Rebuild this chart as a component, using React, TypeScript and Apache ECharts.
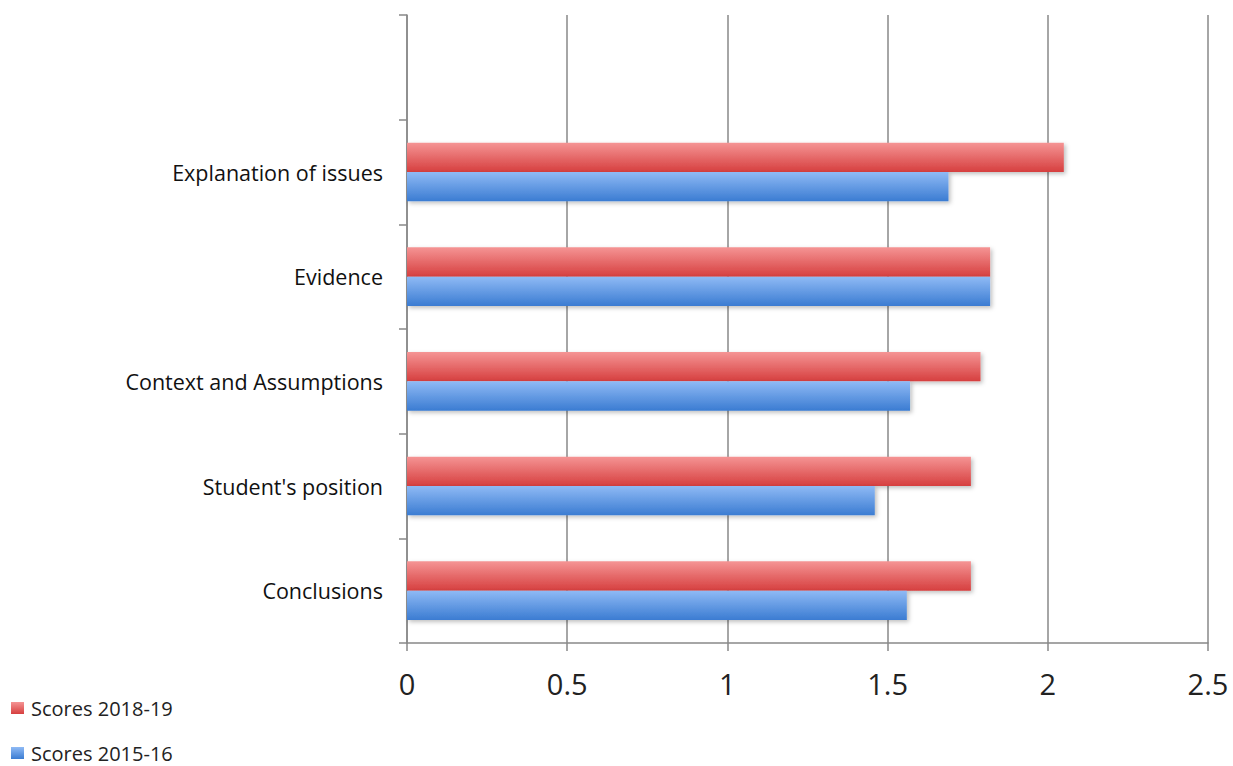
import React, { useEffect, useRef } from "react";
import * as echarts from "echarts";

const categories = ["Conclusions", "Student's position", "Context and Assumptions", "Evidence", "Explanation of issues", ""];
const scores2018 = [1.76, 1.76, 1.79, 1.82, 2.05, null];
const scores2015 = [1.56, 1.46, 1.57, 1.82, 1.69, null];
const xTicks = [0, 0.5, 1, 1.5, 2, 2.5];
const seriesNames = ["Scores 2018-19", "Scores 2015-16"];

const FONT = "'Open Sans', 'Noto Sans', sans-serif";

export default function App() {
  const ref = useRef<HTMLDivElement>(null);
  useEffect(() => {
    if (!ref.current) return;
    const chart = echarts.init(ref.current, null, { renderer: "svg" });
    const red = new echarts.graphic.LinearGradient(0, 0, 0, 1, [
      { offset: 0, color: "#f59494" },
      { offset: 1, color: "#d63f3f" },
    ]);
    const blue = new echarts.graphic.LinearGradient(0, 0, 0, 1, [
      { offset: 0, color: "#8fbaf5" },
      { offset: 1, color: "#3b7cd2" },
    ]);
    const shadow = {
      shadowColor: "rgba(0,0,0,0.25)",
      shadowBlur: 4,
      shadowOffsetX: 2,
      shadowOffsetY: 2,
    };
    const legendBase = {
      orient: "vertical",
      left: 11,
      padding: 0,
      itemWidth: 13,
      itemHeight: 12,
      icon: "rect",
      textStyle: { fontSize: 20, lineHeight: 22, color: "#222", fontFamily: FONT, padding: [0, 0, 0, 2] },
    };
    chart.setOption({
      animation: false,
      textStyle: { fontFamily: FONT },
      grid: { left: 407, right: 25, top: 15, bottom: 123, containLabel: false },
      legend: [
        { ...legendBase, top: 697, data: [seriesNames[0]] },
        { ...legendBase, top: 742, data: [seriesNames[1]] },
      ],
      xAxis: {
        type: "value",
        min: 0,
        max: xTicks[xTicks.length - 1],
        interval: 0.5,
        axisLine: { show: true, lineStyle: { color: "#888", width: 1.5 } },
        axisTick: { show: true, length: 8, lineStyle: { color: "#888", width: 1.5 } },
        splitLine: { show: true, lineStyle: { color: "#888", width: 1.5 } },
        axisLabel: {
          fontSize: 29,
          color: "#222",
          margin: 26,
          fontFamily: FONT,
          formatter: (v: number) => String(v),
        },
      },
      yAxis: {
        type: "category",
        data: categories,
        axisLine: { show: true, lineStyle: { color: "#888", width: 1.5 } },
        axisTick: { show: true, length: 8, alignWithLabel: false, lineStyle: { color: "#888", width: 1.5 } },
        splitLine: { show: false },
        axisLabel: { fontSize: 21.5, color: "#111", margin: 24, fontFamily: FONT },
      },
      series: [
        {
          name: seriesNames[0],
          type: "bar",
          data: scores2018,
          barGap: "0%",
          barCategoryGap: "44%",
          itemStyle: { color: red, ...shadow },
        },
        {
          name: seriesNames[1],
          type: "bar",
          data: scores2015,
          barGap: "0%",
          barCategoryGap: "44%",
          itemStyle: { color: blue, ...shadow },
        },
      ],
    });
    return () => chart.dispose();
  }, []);
  return (
    <div
      ref={ref}
      style={{ position: "fixed", left: 0, top: 0, width: 1233, height: 766, background: "#fff" }}
    />
  );
}
